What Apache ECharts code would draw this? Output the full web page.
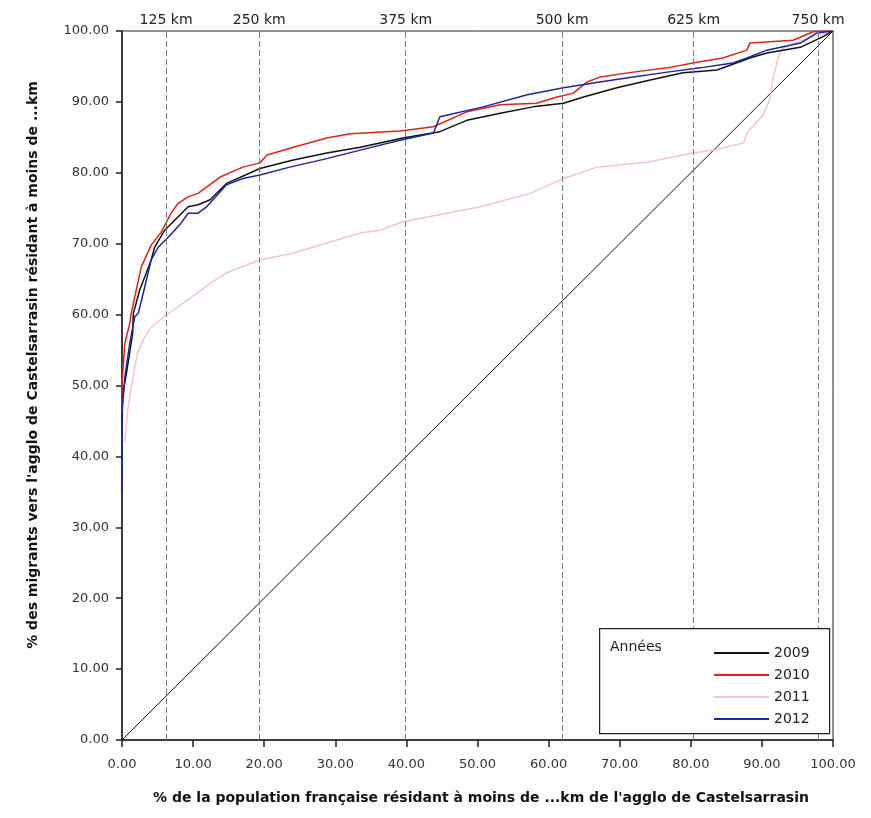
<!DOCTYPE html>
<html>
<head>
<meta charset="utf-8">
<script src="https://cdn.jsdelivr.net/npm/echarts@6/dist/echarts.min.js"></script>
<style>
html,body{margin:0;padding:0;background:#fff;}
#chart{width:871px;height:818px;}
</style>
</head>
<body>
<div id="chart"></div>
<script>
// ---- data ----
const years = ['2009', '2010', '2011', '2012'];
const s2009 = [[0,45],[0,48],[0.7,52.2],[1.5,57.4],[1.6,60.2],[2.5,63.5],[3.2,65.3],[4.1,67.7],[4.6,69.5],[6,71.9],[7.9,73.8],[9.3,75.2],[10.7,75.5],[12.4,76.2],[14.7,78.5],[19.4,80.6],[24.1,81.8],[28.8,82.8],[33.5,83.6],[39.5,84.9],[44.7,85.8],[48.5,87.4],[53.2,88.4],[57.8,89.3],[62.1,89.8],[64.9,90.7],[69.6,92],[74.3,93.1],[78.9,94.1],[83.7,94.5],[88.3,96.2],[90.7,96.9],[95.4,97.7],[98.6,99.2],[100,100]];
const s2010 = [[0,46],[0,50.3],[0.4,56],[1.1,58.8],[1.3,60.2],[2.7,66.7],[4.1,69.8],[5.5,71.6],[6.9,74.3],[7.9,75.7],[9.3,76.6],[10.7,77.1],[13.8,79.4],[17,80.8],[19.4,81.4],[20.4,82.5],[24.1,83.6],[28.8,84.9],[32.1,85.5],[39.1,85.9],[43.8,86.5],[48.5,88.6],[53.2,89.6],[58.3,89.8],[61.2,90.7],[63.4,91.2],[65.4,92.8],[67.2,93.5],[71.9,94.2],[76.7,94.8],[80.3,95.5],[84.5,96.2],[87.9,97.3],[88.3,98.3],[94.4,98.7],[97.2,99.9],[100,100]];
const s2011 = [[0.4,42],[0.8,46.5],[1.5,51],[2.2,54.6],[3,56.5],[4.1,58.2],[6,59.8],[8.6,61.6],[12.4,64.4],[14.7,65.9],[19.4,67.7],[24.1,68.7],[28.8,70.1],[33.5,71.5],[36.3,71.9],[39.5,73.1],[45.7,74.3],[50.4,75.2],[57.4,77.1],[62.1,79.2],[66.8,80.8],[73.8,81.5],[80.3,82.8],[83.2,83.2],[87.4,84.2],[87.9,85.6],[90.2,88.2],[91.1,90.3],[91.6,93.5],[92.3,96.3],[92.8,97.5],[95,98.5],[100,100]];
const s2012 = [[0,35],[0,46],[0.4,51.2],[1.1,56],[1.8,59.7],[2.3,60.2],[3.2,63.9],[4.1,67.7],[5.1,69.5],[6.5,70.9],[8.3,72.9],[9.3,74.3],[10.7,74.3],[11.9,75.2],[14.7,78.3],[17,79.2],[19.4,79.7],[23.6,80.8],[28.8,82],[33.5,83.2],[39.1,84.6],[43.8,85.6],[44.7,87.9],[50.8,89.3],[57,91],[62.1,92],[67.2,92.8],[71.9,93.5],[76.7,94.2],[81.3,94.8],[85.9,95.5],[87.9,96.2],[90.7,97.3],[95.4,98.3],[97.7,99.7],[100,100]];
const diagonal = [[0,0],[100,100]];
const kmPositions = [6.2, 19.3, 39.9, 61.9, 80.4, 97.9];
const kmLabels = ['125 km', '250 km', '375 km', '500 km', '625 km', '750 km'];
const colors = {'2009':'#111111','2010':'#d8261c','2011':'#f2c6c6','2012':'#1c23a8'};
const xTitle = "% de la population française résidant à moins de ...km de l'agglo de Castelsarrasin";
const yTitle = "% des migrants vers l'agglo de Castelsarrasin résidant à moins de ...km";

const seriesData = {'2009': s2009, '2010': s2010, '2011': s2011, '2012': s2012};

const chart = echarts.init(document.getElementById('chart'), null, {renderer:'canvas'});
const font = 'DejaVu Sans';

const series = years.map(y => ({
  name: y,
  type: 'line',
  data: seriesData[y],
  symbol: 'none',
  showSymbol: false,
  lineStyle: {color: colors[y], width: 1.5},
  itemStyle: {color: colors[y]},
  z: y === '2011' ? 3 : 4,
  animation: false
}));

series.push({
  name: 'diag',
  type: 'line',
  data: diagonal,
  symbol: 'none',
  lineStyle: {color: '#111', width: 1},
  z: 2,
  animation: false,
  markLine: {
    silent: true,
    symbol: ['none','none'],
    animation: false,
    lineStyle: {color: '#7a7a7a', type: [6,3], width: 1},
    label: {show: true, position: 'end', color: '#222', fontFamily: font, fontSize: 14, distance: 4},
    data: kmPositions.map((v, i) => ({xAxis: v, label: {formatter: kmLabels[i]}}))
  }
});

const option = {
  backgroundColor: '#ffffff',
  animation: false,
  grid: {left: 122, right: 38, top: 31, bottom: 78, show: true, borderColor: '#222', borderWidth: 1, backgroundColor: 'transparent'},
  xAxis: {
    type: 'value', min: 0, max: 100, interval: 10,
    axisLine: {show: true, lineStyle: {color: '#222', width: 1.5}},
    axisTick: {show: true, length: 7, lineStyle: {color: '#222', width: 1.5}},
    axisLabel: {formatter: v => v.toFixed(2), color: '#333', fontFamily: font, fontSize: 13, margin: 18},
    splitLine: {show: false}
  },
  yAxis: {
    type: 'value', min: 0, max: 100, interval: 10,
    axisLine: {show: true, lineStyle: {color: '#222', width: 1.5}},
    axisTick: {show: true, length: 6, lineStyle: {color: '#222', width: 1.5}},
    axisLabel: {formatter: v => v.toFixed(2), color: '#333', fontFamily: font, fontSize: 13, margin: 13},
    splitLine: {show: false}
  },
  legend: {
    data: years,
    orient: 'vertical',
    left: 708, top: 641,
    itemWidth: 55, itemHeight: 14, itemGap: 8,
    textStyle: {color: '#222', fontFamily: font, fontSize: 14},
    itemStyle: {opacity: 0, color: 'transparent', borderWidth: 0},
    selectedMode: false,
    z: 200
  },
  graphic: [
    {type: 'rect', left: 599, top: 628, shape: {width: 230, height: 105}, style: {fill: '#fff', stroke: '#222', lineWidth: 1.2}, z: 90},
    {type: 'text', left: 610, top: 640, style: {text: 'Années', fill: '#222', font: '14px "DejaVu Sans"'}, z: 100},
    {type: 'text', x: 481, y: 798, style: {text: xTitle, fill: '#111', font: 'bold 14px "DejaVu Sans"', textAlign: 'center', textVerticalAlign: 'middle'}, z: 100},
    {type: 'text', x: 33, y: 365, rotation: Math.PI / 2, style: {text: yTitle, fill: '#111', font: 'bold 14px "DejaVu Sans"', textAlign: 'center', textVerticalAlign: 'middle'}, z: 100}
  ],
  series: series
};
chart.setOption(option);
</script>
</body>
</html>
